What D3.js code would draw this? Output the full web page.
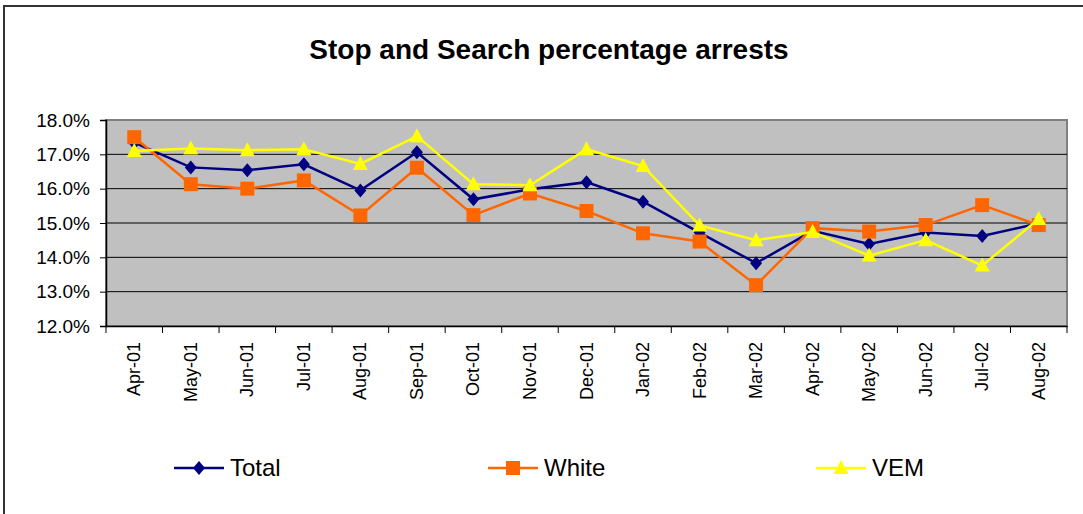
<!DOCTYPE html>
<html>
<head>
<meta charset="utf-8">
<script src="https://cdn.jsdelivr.net/npm/d3@7"></script>
<style>
  body { margin: 0; background: #fff; }
  svg { display: block; font-family: Arial, "Liberation Sans", sans-serif; }
</style>
</head>
<body>
<div id="chart"></div>
<script>
// months along the x axis
const months = ['Apr-01', 'May-01', 'Jun-01', 'Jul-01', 'Aug-01', 'Sep-01', 'Oct-01', 'Nov-01', 'Dec-01',
  'Jan-02', 'Feb-02', 'Mar-02', 'Apr-02', 'May-02', 'Jun-02', 'Jul-02', 'Aug-02'];

// percentage arrests
const total = [17.34, 16.62, 16.54, 16.71, 15.95, 17.06, 15.69, 15.98, 16.19, 15.62, 14.72, 13.83, 14.77, 14.39, 14.72, 14.62, 14.99];
const white = [17.50, 16.13, 16.00, 16.24, 15.22, 16.61, 15.23, 15.86, 15.35, 14.70, 14.46, 13.19, 14.85, 14.75, 14.94, 15.52, 14.94];
const vem = [17.10, 17.17, 17.12, 17.15, 16.72, 17.53, 16.13, 16.10, 17.15, 16.66, 14.93, 14.50, 14.74, 14.05, 14.50, 13.76, 15.12];

const yTicks = [12, 13, 14, 15, 16, 17, 18];

const width = 1083;
const height = 514;
const margin = { top: 120, right: 16, bottom: 188, left: 106 };

const svg = d3.select('#chart')
  .append('svg')
  .attr('width', width)
  .attr('height', height);

// outer chart border (runs off the right/bottom of the picture)
svg.append('rect')
  .attr('x', 4)
  .attr('y', 6)
  .attr('width', width + 10)
  .attr('height', height + 10)
  .attr('fill', '#fff')
  .attr('stroke', '#333')
  .attr('stroke-width', 2);

const x = d3.scaleBand()
  .domain(months)
  .range([margin.left, width - margin.right]);

const y = d3.scaleLinear()
  .domain([12, 18])
  .range([height - margin.bottom, margin.top]);

// plot area
svg.append('rect')
  .attr('x', margin.left)
  .attr('y', margin.top)
  .attr('width', width - margin.right - margin.left)
  .attr('height', height - margin.bottom - margin.top)
  .attr('fill', '#c0c0c0')
  .attr('stroke', '#808080')
  .attr('stroke-width', 2);

// gridlines
svg.append('g')
  .selectAll('line')
  .data(yTicks.slice(1, -1))
  .join('line')
  .attr('x1', margin.left)
  .attr('x2', width - margin.right)
  .attr('y1', (d) => y(d))
  .attr('y2', (d) => y(d))
  .attr('stroke', '#000')
  .attr('stroke-width', 1);

// y axis
const yAxis = svg.append('g')
  .attr('transform', `translate(${margin.left},0)`)
  .call(d3.axisLeft(y).tickValues(yTicks).tickSize(6).tickPadding(10).tickFormat((d) => d.toFixed(1) + '%'));
yAxis.select('.domain').attr('stroke', '#000').attr('stroke-width', 1.5);
yAxis.selectAll('text').attr('font-size', 19).attr('fill', '#000').style('font-family', 'Arial, "Liberation Sans", sans-serif');

// x axis
const xAxis = svg.append('g')
  .attr('transform', `translate(0,${height - margin.bottom})`)
  .call(d3.axisBottom(x).tickSize(0).tickFormat(''));
xAxis.select('.domain').attr('stroke', '#000').attr('stroke-width', 1.5);

// category separators on the x axis
svg.append('g')
  .selectAll('line')
  .data(months.concat(['end']))
  .join('line')
  .attr('x1', (d, i) => margin.left + i * x.step())
  .attr('x2', (d, i) => margin.left + i * x.step())
  .attr('y1', height - margin.bottom)
  .attr('y2', height - margin.bottom + 7)
  .attr('stroke', '#000');

svg.append('g')
  .selectAll('text')
  .data(months)
  .join('text')
  .attr('transform', (d) => `translate(${x(d) + x.bandwidth() / 2 + 6},${height - margin.bottom + 16}) rotate(-90)`)
  .attr('text-anchor', 'end')
  .attr('font-size', 18)
  .text((d) => d);

// marker shapes, sized like the original
const diamond = { draw: (ctx) => { ctx.moveTo(0, -7); ctx.lineTo(6, 0); ctx.lineTo(0, 7); ctx.lineTo(-6, 0); ctx.closePath(); } };
const square = { draw: (ctx) => { ctx.rect(-7, -7, 14, 14); } };
const triangle = { draw: (ctx) => { ctx.moveTo(0, -8); ctx.lineTo(7.5, 6); ctx.lineTo(-7.5, 6); ctx.closePath(); } };

// series
const series = [
  { name: 'Total', values: total, color: '#000080', symbol: diamond },
  { name: 'White', values: white, color: '#ff6600', symbol: square },
  { name: 'VEM', values: vem, color: '#ffff00', symbol: triangle }
];

const line = d3.line()
  .x((d, i) => x(months[i]) + x.bandwidth() / 2)
  .y((d) => y(d));

series.forEach((s) => {
  svg.append('path')
    .datum(s.values)
    .attr('fill', 'none')
    .attr('stroke', s.color)
    .attr('stroke-width', 2.5)
    .attr('d', line);

  svg.append('g')
    .selectAll('path')
    .data(s.values)
    .join('path')
    .attr('transform', (d, i) => `translate(${x(months[i]) + x.bandwidth() / 2},${y(d)})`)
    .attr('d', d3.symbol().type(s.symbol))
    .attr('fill', s.color);
});

// title
svg.append('text')
  .attr('x', 549)
  .attr('y', 59)
  .attr('text-anchor', 'middle')
  .attr('font-size', 28)
  .attr('font-weight', 'bold')
  .text('Stop and Search percentage arrests');

// legend
const legendX = [174, 488, 816];
series.forEach((s, i) => {
  const g = svg.append('g').attr('transform', `translate(${legendX[i]},468)`);
  g.append('line')
    .attr('x1', 0)
    .attr('x2', 50)
    .attr('stroke', s.color)
    .attr('stroke-width', 2.5);
  g.append('path')
    .attr('transform', 'translate(25,0)')
    .attr('d', d3.symbol().type(s.symbol))
    .attr('fill', s.color);
  g.append('text')
    .attr('x', 56)
    .attr('y', 8)
    .attr('font-size', 24)
    .text(s.name);
});
</script>
</body>
</html>
